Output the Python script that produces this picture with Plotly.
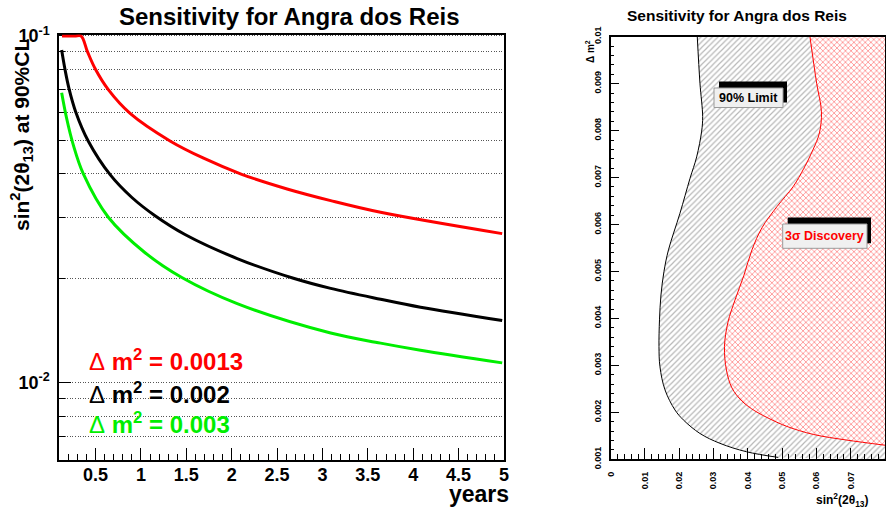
import math
import plotly.graph_objects as go

W, H = 886, 510
FONT = "Liberation Sans"

# ---- left panel: sensitivity vs. running time ----
RED_YEARS = [0.13, 0.27, 0.34, 0.41, 0.50, 0.64, 0.88, 1.32, 1.69, 2.11, 2.61, 3.09, 3.64, 4.98]
RED_SENS = [0.100, 0.100, 0.100, 0.0901, 0.0800, 0.0700, 0.0598, 0.0498, 0.0444, 0.0399, 0.0362, 0.0335, 0.0310, 0.0269]

BLACK_YEARS = [0.126, 0.163, 0.207, 0.28, 0.42, 0.66, 0.90, 1.155, 1.49, 2.06, 2.68, 3.09, 3.64, 4.08, 4.98]
BLACK_SENS = [0.0911, 0.0800, 0.0705, 0.0605, 0.0497, 0.0398, 0.0342, 0.0303, 0.0267, 0.0228, 0.0200, 0.0187, 0.0174, 0.0165, 0.0151]

GREEN_YEARS = [0.126, 0.18, 0.254, 0.365, 0.64, 1.045, 1.45, 2.06, 3.09, 3.64, 4.08, 4.98]
GREEN_SENS = [0.0686, 0.0580, 0.0485, 0.0400, 0.0300, 0.0237, 0.0201, 0.0169, 0.0139, 0.0130, 0.0124, 0.0114]

CURVE_LABELS = ["0.0013", "0.002", "0.003"]
CURVE_COLORS = ["#ff0000", "#000000", "#00ee00"]

YEAR_TICKS = [0.5, 1, 1.5, 2, 2.5, 3, 3.5, 4, 4.5, 5]
YEAR_TICK_TEXT = ["0.5", "1", "1.5", "2", "2.5", "3", "3.5", "4", "4.5", "5"]
SENS_MAJOR = [0.01, 0.1]
SENS_MAJOR_TEXT = ["10<sup>-2</sup>", "10<sup>-1</sup>"]
SENS_MINOR = [0.006, 0.007, 0.008, 0.009, 0.02, 0.03, 0.04, 0.05, 0.06, 0.07, 0.08, 0.09]

# ---- right panel: exclusion / discovery contours in (sin^2 2theta13, dm^2) ----
LIMIT_S2 = [0.02525, 0.02603, 0.02682, 0.02653, 0.02507, 0.02312, 0.02020, 0.01685, 0.01554, 0.01466,
            0.01423, 0.01408, 0.01437, 0.01583, 0.01875, 0.02117, 0.02603, 0.03187, 0.03965, 0.04886]
LIMIT_DM2 = [0.01000, 0.00901, 0.00830, 0.00799, 0.00744, 0.00698, 0.00624, 0.00546, 0.00500, 0.00450,
             0.00397, 0.00340, 0.00297, 0.00248, 0.00205, 0.00184, 0.00155, 0.00134, 0.00116, 0.00104]

DISC_S2 = [0.05811, 0.06006, 0.06146, 0.06087, 0.05898, 0.05636, 0.05324, 0.04848, 0.04411, 0.04120,
           0.03886, 0.03624, 0.03420, 0.03318, 0.03376, 0.03536, 0.03828, 0.04207, 0.04644, 0.05140,
           0.05907, 0.06880, 0.08000]
DISC_DM2 = [0.01000, 0.00901, 0.00840, 0.00795, 0.00759, 0.00720, 0.00681, 0.00638, 0.00593, 0.00546,
            0.00492, 0.00439, 0.00392, 0.00340, 0.00290, 0.00252, 0.00224, 0.00203, 0.00186, 0.00170,
            0.00153, 0.00141, 0.00130]

S2_RANGE = [0.0, 0.08]
DM2_RANGE = [0.001, 0.01]
S2_TICKS = [0, 0.01, 0.02, 0.03, 0.04, 0.05, 0.06, 0.07, 0.08]
S2_TICK_TEXT = ["0", "0.01", "0.02", "0.03", "0.04", "0.05", "0.06", "0.07", "0.08"]
DM2_TICKS = [0.001, 0.002, 0.003, 0.004, 0.005, 0.006, 0.007, 0.008, 0.009, 0.01]
DM2_TICK_TEXT = ["0.001", "0.002", "0.003", "0.004", "0.005", "0.006", "0.007", "0.008", "0.009", "0.01"]


def px(x):
    return x / W


def py(y):
    return 1 - y / H


fig = go.Figure()

# left panel curves
for yrs, sens, col in [(RED_YEARS, RED_SENS, CURVE_COLORS[0]),
                       (BLACK_YEARS, BLACK_SENS, CURVE_COLORS[1]),
                       (GREEN_YEARS, GREEN_SENS, CURVE_COLORS[2])]:
    fig.add_trace(go.Scatter(x=yrs, y=sens, mode="lines", xaxis="x", yaxis="y",
                             line=dict(color=col, width=3, shape="spline", smoothing=1.0),
                             showlegend=False, hoverinfo="skip"))

# right panel: 90% limit region (hatched) and 3 sigma discovery region (cross-hatched)
fig.add_trace(go.Scatter(x=LIMIT_S2 + [S2_RANGE[1], S2_RANGE[1]], y=LIMIT_DM2 + [DM2_RANGE[0], DM2_RANGE[1]],
                         mode="none", fill="toself", xaxis="x2", yaxis="y2",
                         fillpattern=dict(shape="/", fgcolor="#707070", bgcolor="rgba(255,255,255,0)",
                                          size=4, solidity=0.3),
                         showlegend=False, hoverinfo="skip"))
fig.add_trace(go.Scatter(x=DISC_S2 + [S2_RANGE[1]], y=DISC_DM2 + [DM2_RANGE[1]],
                         mode="none", fill="toself", xaxis="x2", yaxis="y2",
                         fillpattern=dict(shape="x", fgcolor="#ff3030", bgcolor="#ffffff",
                                          size=4, solidity=0.4),
                         showlegend=False, hoverinfo="skip"))
fig.add_trace(go.Scatter(x=LIMIT_S2, y=LIMIT_DM2, mode="lines", xaxis="x2", yaxis="y2",
                         line=dict(color="black", width=1, shape="spline", smoothing=1.0),
                         showlegend=False, hoverinfo="skip"))
fig.add_trace(go.Scatter(x=DISC_S2, y=DISC_DM2, mode="lines", xaxis="x2", yaxis="y2",
                         line=dict(color="#ff0000", width=1, shape="spline", smoothing=1.0),
                         showlegend=False, hoverinfo="skip"))

grid_dash = "1px,1.6px"
bold = dict(family=FONT, weight="bold", color="black")

fig.update_layout(
    width=W, height=H,
    margin=dict(l=0, r=0, t=0, b=0, autoexpand=False),
    paper_bgcolor="white", plot_bgcolor="white",
    font=dict(family=FONT, color="black"),
    xaxis=dict(
        domain=[px(59.3), px(504)], range=[0.1, 5], anchor="y", automargin=False,
        tickvals=YEAR_TICKS, ticktext=YEAR_TICK_TEXT, ticks="inside", ticklen=12, tickwidth=1,
        tickcolor="black", tickfont=dict(bold, size=18), ticklabelstandoff=-2,
        minor=dict(dtick=0.1, tick0=0, ticks="inside", ticklen=6, tickcolor="black", tickwidth=1),
        showgrid=False, zeroline=False, showline=True, linecolor="black", linewidth=2, mirror=True,
        layer="below traces",
    ),
    yaxis=dict(
        domain=[py(459.5), py(34.6)], type="log", automargin=False,
        range=[math.log10(0.006), math.log10(0.1) + 0.004], anchor="x",
        tickvals=SENS_MAJOR, ticktext=SENS_MAJOR_TEXT, ticks="inside", ticklen=12, tickwidth=1,
        tickcolor="black", tickfont=dict(bold, size=18), ticklabelstandoff=4,
        showgrid=True, gridcolor="#555555", griddash=grid_dash, gridwidth=1,
        minor=dict(tickvals=SENS_MINOR, ticks="inside", ticklen=6, tickcolor="black", tickwidth=1,
                   showgrid=True, gridcolor="#555555", griddash=grid_dash, gridwidth=1),
        zeroline=False, showline=True, linecolor="black", linewidth=2, mirror=True,
        layer="below traces",
    ),
    xaxis2=dict(
        domain=[px(610.7), px(885)], range=S2_RANGE, anchor="y2", automargin=False,
        tickvals=S2_TICKS, ticktext=S2_TICK_TEXT, ticks="inside", ticklen=12, tickwidth=1,
        tickcolor="black", tickangle=-90, tickfont=dict(bold, size=9), ticklabelstandoff=7,
        minor=dict(dtick=0.002, tick0=0, ticks="inside", ticklen=6, tickcolor="black", tickwidth=1),
        showgrid=False, zeroline=False, showline=True, linecolor="black", linewidth=1.5, mirror=True,
    ),
    yaxis2=dict(
        domain=[py(459.3), py(36.7)], range=DM2_RANGE, anchor="x2", automargin=False,
        tickvals=DM2_TICKS, ticktext=DM2_TICK_TEXT, ticks="inside", ticklen=9, tickwidth=1,
        tickcolor="black", tickangle=-90, tickfont=dict(bold, size=9), ticklabelstandoff=4,
        minor=dict(dtick=0.0002, tick0=0, ticks="inside", ticklen=4, tickcolor="black", tickwidth=1),
        showgrid=False, zeroline=False, showline=True, linecolor="black", linewidth=1.5, mirror=True,
    ),
)

annotations = [
    dict(text="Sensitivity for Angra dos Reis", x=px(289), y=py(17), font=dict(bold, size=24)),
    dict(text="Sensitivity for Angra dos Reis", x=px(737), y=py(15), font=dict(bold, size=15.5)),
    dict(text="sin<sup>2</sup>(2θ<sub>13</sub>) at 90%CL", x=px(22), y=py(135), textangle=-90,
         font=dict(bold, size=21)),
    dict(text="years", x=px(479), y=py(494), font=dict(bold, size=23)),
    dict(text="Δ m<sup>2</sup>", x=px(590), y=py(52), textangle=-90, font=dict(bold, size=10)),
    dict(text="sin<sup>2</sup>(2θ<sub>13</sub>)", x=px(842), y=py(500), font=dict(bold, size=12)),
]
for lab, col, yc in zip(CURVE_LABELS, CURVE_COLORS, [360, 393, 423]):
    annotations.append(dict(
        text='<span style="font-weight:normal">Δ</span> m<sup>2</sup> = ' + lab,
        x=px(87), y=py(yc), xanchor="left", font=dict(family=FONT, weight="bold", size=24, color=col)))

# boxed labels in the right panel
boxes = [
    (714, 88, 783, 107.5, "90% Limit", "black"),
    (782.7, 224, 867, 248.3, "3σ Discovery", "#ff0000"),
]
shapes = []
for x0, y0, x1, y1, txt, col in boxes:
    shapes.append(dict(type="rect", xref="paper", yref="paper",
                       x0=px(x0 + 5), x1=px(x1 + 4), y0=py(y0 - 6.5), y1=py(y1 - 5),
                       fillcolor="black", line=dict(width=0), layer="above"))
    shapes.append(dict(type="rect", xref="paper", yref="paper",
                       x0=px(x0), x1=px(x1), y0=py(y0), y1=py(y1),
                       fillcolor="#f0f0f0", line=dict(color="#9a9a9a", width=1), layer="above"))
    annotations.append(dict(text=txt, x=px((x0 + x1) / 2), y=py((y0 + y1) / 2),
                            font=dict(family=FONT, weight="bold", size=12.5, color=col)))

for a in annotations:
    a.setdefault("xref", "paper")
    a.setdefault("yref", "paper")
    a.setdefault("showarrow", False)
    a.setdefault("xanchor", "center")
    a.setdefault("yanchor", "middle")

fig.update_layout(annotations=annotations, shapes=shapes)

fig.write_html("out.html")
